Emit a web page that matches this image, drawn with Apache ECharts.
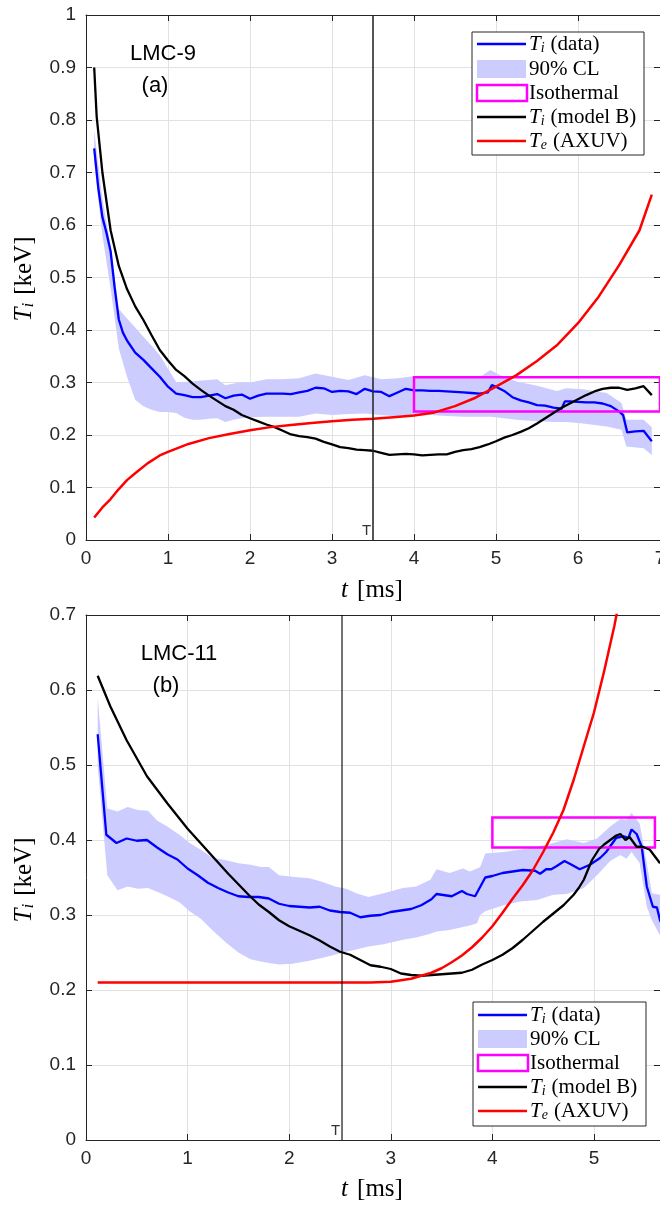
<!DOCTYPE html>
<html><head><meta charset="utf-8">
<script src="https://cdn.jsdelivr.net/npm/echarts@6/dist/echarts.min.js"></script>
<style>html,body{margin:0;padding:0;background:#fff}#c{width:660px;height:1205px}</style>
</head><body><div id="c"></div>
<script>
// ---------- LMC-9 (a) ----------
const lmc9DataT  = [0.1,0.15,0.2,0.25,0.3,0.35,0.4,0.45,0.5,0.6,0.7,0.8,0.9,1.0,1.1,1.2,1.3,1.4,1.5,1.6,1.7,1.8,1.9,2.0,2.1,2.2,2.3,2.4,2.5,2.6,2.7,2.8,2.9,3.0,3.1,3.2,3.3,3.4,3.5,3.6,3.7,3.8,3.9,4.0,4.1,4.2,4.3,4.4,4.5,4.6,4.7,4.8,4.9,4.95,5.0,5.1,5.2,5.3,5.4,5.5,5.6,5.7,5.8,5.84,5.9,6.0,6.1,6.2,6.3,6.4,6.5,6.55,6.6,6.7,6.8,6.9];
const lmc9DataTi = [0.746,0.67,0.615,0.585,0.55,0.48,0.42,0.395,0.38,0.357,0.343,0.327,0.311,0.292,0.279,0.276,0.272,0.272,0.275,0.278,0.27,0.275,0.277,0.269,0.275,0.279,0.279,0.279,0.278,0.281,0.284,0.29,0.289,0.282,0.284,0.283,0.278,0.288,0.283,0.282,0.274,0.281,0.288,0.285,0.285,0.284,0.284,0.283,0.282,0.281,0.28,0.279,0.281,0.295,0.292,0.284,0.272,0.266,0.262,0.257,0.256,0.252,0.25,0.264,0.264,0.263,0.262,0.262,0.26,0.255,0.245,0.238,0.205,0.207,0.208,0.188];
const lmc9BandT  = [0.1,0.2,0.3,0.4,0.5,0.6,0.7,0.8,0.9,1.0,1.1,1.2,1.3,1.4,1.5,1.6,1.7,1.8,1.9,2.0,2.2,2.4,2.6,2.8,3.0,3.2,3.4,3.6,3.8,4.0,4.2,4.4,4.6,4.8,4.93,5.05,5.25,5.5,5.74,5.86,6.06,6.35,6.53,6.59,6.8,6.9];
const lmc9BandLo = [0.72,0.58,0.48,0.365,0.311,0.267,0.255,0.248,0.244,0.244,0.242,0.233,0.229,0.229,0.231,0.232,0.225,0.229,0.232,0.234,0.235,0.235,0.235,0.241,0.238,0.24,0.241,0.238,0.235,0.236,0.238,0.236,0.235,0.235,0.235,0.233,0.229,0.226,0.225,0.225,0.222,0.216,0.21,0.178,0.175,0.162];
const lmc9BandHi = [0.78,0.65,0.56,0.44,0.422,0.405,0.387,0.37,0.352,0.326,0.301,0.301,0.302,0.304,0.305,0.306,0.295,0.298,0.301,0.3,0.306,0.306,0.308,0.317,0.311,0.305,0.314,0.306,0.308,0.312,0.31,0.309,0.309,0.31,0.324,0.314,0.302,0.294,0.284,0.289,0.287,0.28,0.261,0.229,0.229,0.215];
const lmc9ModelT  = [0.1,0.13,0.2,0.3,0.4,0.5,0.6,0.7,0.8,0.9,1.0,1.1,1.2,1.3,1.4,1.5,1.6,1.7,1.8,1.9,2.0,2.1,2.2,2.3,2.4,2.5,2.6,2.7,2.8,2.9,3.0,3.1,3.2,3.3,3.4,3.5,3.6,3.7,3.8,3.9,4.0,4.1,4.2,4.3,4.4,4.5,4.6,4.7,4.8,4.9,5.0,5.1,5.2,5.3,5.4,5.5,5.6,5.7,5.8,5.9,6.0,6.1,6.2,6.3,6.4,6.5,6.6,6.7,6.8,6.9];
const lmc9ModelTi = [0.9,0.807,0.7,0.59,0.522,0.478,0.445,0.419,0.39,0.362,0.342,0.324,0.312,0.298,0.286,0.275,0.265,0.255,0.248,0.238,0.232,0.226,0.22,0.215,0.208,0.201,0.198,0.196,0.193,0.187,0.182,0.177,0.175,0.172,0.171,0.17,0.166,0.162,0.163,0.164,0.163,0.161,0.162,0.163,0.163,0.168,0.171,0.173,0.177,0.182,0.188,0.195,0.2,0.206,0.213,0.222,0.232,0.242,0.252,0.26,0.268,0.276,0.283,0.288,0.29,0.29,0.286,0.289,0.293,0.276];
const lmc9TeT  = [0.1,0.2,0.3,0.4,0.5,0.6,0.75,0.9,1.0,1.25,1.5,1.75,2.0,2.25,2.5,2.75,3.0,3.25,3.5,3.75,4.0,4.25,4.5,4.75,5.0,5.25,5.5,5.75,6.0,6.25,6.5,6.75,6.9];
const lmc9Te   = [0.043,0.062,0.078,0.097,0.114,0.127,0.146,0.161,0.168,0.183,0.194,0.202,0.209,0.215,0.219,0.223,0.226,0.229,0.231,0.234,0.237,0.243,0.255,0.271,0.292,0.314,0.341,0.372,0.413,0.463,0.523,0.59,0.658];
const lmc9Iso = [4, 0.245, 7, 0.31];   // t0, Ti0, t1, Ti1
const lmc9Mark = 3.5;

// ---------- LMC-11 (b) ----------
const lmc11DataT  = [0.115,0.2,0.3,0.4,0.5,0.6,0.7,0.8,0.9,1.0,1.1,1.2,1.3,1.4,1.5,1.6,1.7,1.8,1.9,2.0,2.1,2.2,2.3,2.4,2.5,2.6,2.7,2.8,2.9,3.0,3.1,3.2,3.3,3.4,3.45,3.5,3.6,3.7,3.75,3.83,3.93,4.0,4.1,4.2,4.3,4.42,4.47,4.53,4.58,4.63,4.71,4.78,4.86,4.96,5.06,5.12,5.22,5.29,5.34,5.37,5.42,5.47,5.52,5.58,5.62,5.65,5.7];
const lmc11DataTi = [0.541,0.407,0.396,0.402,0.399,0.4,0.39,0.381,0.374,0.362,0.353,0.343,0.336,0.33,0.325,0.324,0.324,0.322,0.315,0.312,0.311,0.31,0.311,0.306,0.304,0.303,0.297,0.299,0.3,0.304,0.306,0.308,0.313,0.321,0.328,0.327,0.325,0.332,0.328,0.325,0.35,0.352,0.356,0.358,0.36,0.359,0.355,0.361,0.361,0.365,0.372,0.367,0.361,0.367,0.376,0.384,0.403,0.405,0.403,0.414,0.408,0.391,0.338,0.311,0.31,0.293,0.28];
const lmc11BandT  = [0.115,0.21,0.31,0.41,0.51,0.61,0.7,0.8,0.92,1.02,1.13,1.25,1.38,1.5,1.62,1.72,1.8,1.9,2.03,2.2,2.33,2.45,2.56,2.66,2.78,2.93,3.12,3.25,3.39,3.45,3.58,3.71,3.78,3.85,3.88,3.93,4.11,4.27,4.44,4.6,4.73,4.9,5.03,5.16,5.26,5.32,5.37,5.45,5.52,5.57,5.65];
const lmc11BandLo = [0.5,0.353,0.333,0.338,0.335,0.336,0.331,0.325,0.317,0.305,0.295,0.279,0.263,0.25,0.241,0.238,0.236,0.234,0.235,0.239,0.243,0.247,0.251,0.254,0.258,0.261,0.267,0.27,0.275,0.278,0.28,0.284,0.286,0.289,0.3,0.305,0.313,0.318,0.32,0.327,0.328,0.336,0.353,0.372,0.38,0.375,0.384,0.369,0.311,0.293,0.273];
const lmc11BandHi = [0.59,0.442,0.438,0.444,0.44,0.439,0.426,0.418,0.407,0.396,0.387,0.376,0.373,0.369,0.367,0.364,0.364,0.353,0.351,0.349,0.344,0.338,0.335,0.329,0.324,0.329,0.336,0.338,0.347,0.361,0.356,0.362,0.358,0.362,0.364,0.382,0.384,0.387,0.391,0.396,0.401,0.396,0.402,0.418,0.428,0.427,0.436,0.422,0.369,0.329,0.327];
const lmc11ModelT  = [0.115,0.24,0.4,0.6,0.8,1.0,1.1,1.2,1.3,1.4,1.5,1.6,1.7,1.8,1.9,2.0,2.1,2.2,2.3,2.4,2.5,2.55,2.6,2.7,2.8,2.9,3.0,3.1,3.2,3.3,3.4,3.5,3.6,3.7,3.8,3.9,4.0,4.1,4.2,4.3,4.4,4.5,4.6,4.7,4.8,4.85,4.9,4.98,5.05,5.1,5.16,5.22,5.26,5.31,5.35,5.42,5.48,5.55,5.65];
const lmc11ModelTi = [0.619,0.578,0.533,0.485,0.449,0.415,0.4,0.385,0.37,0.355,0.341,0.327,0.314,0.304,0.293,0.285,0.279,0.273,0.266,0.258,0.251,0.249,0.247,0.24,0.233,0.231,0.228,0.222,0.22,0.219,0.22,0.221,0.222,0.223,0.227,0.234,0.24,0.247,0.256,0.267,0.279,0.291,0.302,0.313,0.327,0.336,0.347,0.373,0.388,0.394,0.4,0.406,0.408,0.4,0.404,0.391,0.391,0.387,0.369];
const lmc11TeT = [0.115,0.5,1.0,1.5,2.0,2.5,2.8,3.0,3.2,3.3,3.4,3.5,3.6,3.7,3.8,3.9,4.0,4.1,4.2,4.3,4.4,4.5,4.6,4.7,4.8,4.9,5.0,5.1,5.2,5.25];
const lmc11Te  = [0.21,0.21,0.21,0.21,0.21,0.21,0.21,0.211,0.215,0.219,0.223,0.229,0.237,0.246,0.257,0.27,0.285,0.303,0.322,0.34,0.36,0.384,0.41,0.44,0.48,0.525,0.57,0.625,0.685,0.72];
const lmc11Iso = [4, 0.39, 5.6, 0.43];
const lmc11Mark = 2.52;

// ---------- axis tick settings ----------
const xTicks9 = {min: 0, max: 7, interval: 1};
const yTicks9 = {min: 0, max: 1, interval: 0.1};
const xTicks11 = {min: 0, max: 5.65, interval: 1};
const yTicks11 = {min: 0, max: 0.7, interval: 0.1};

const legendItems = ['data', 'CL', 'Isothermal', 'model', 'Te'];

// ---------- helpers ----------
const zip = (a, b) => a.map((v, i) => [v, b[i]]);
const SANS = '"Liberation Sans", Arial, sans-serif';
const SERIF = '"Liberation Serif", "Times New Roman", serif';
const INK = '#262626';
const BLUE = '#0000ff', BAND = '#ccccff', MAG = '#ff00ff', BLACK = '#000000', RED = '#ff0000';

function axesFor(g, xt, yt) {
  const common = {
    gridIndex: g, type: 'value',
    axisLine: {show: true, onZero: false, lineStyle: {color: INK, width: 1}},
    axisTick: {show: true, inside: true, length: 6, lineStyle: {color: INK}},
  };
  const x = [
    Object.assign({}, common, xt, {position: 'bottom',
      axisLabel: {fontSize: 19, color: INK, fontFamily: SANS, margin: 9, showMaxLabel: xt.max % 1 === 0},
      splitLine: {show: true, lineStyle: {color: '#e2e2e2', width: 1}}}),
    Object.assign({}, common, xt, {position: 'top', axisLabel: {show: false}, splitLine: {show: false}})
  ];
  const y = [
    Object.assign({}, common, yt, {position: 'left',
      axisLabel: {fontSize: 19, color: INK, fontFamily: SANS, margin: 10},
      splitLine: {show: true, lineStyle: {color: '#e2e2e2', width: 1}}}),
    Object.assign({}, common, yt, {position: 'right', axisLabel: {show: false}, splitLine: {show: false}})
  ];
  return {x, y};
}

function panelSeries(axIdx, d) {
  const xi = axIdx * 2, yi = axIdx * 2;
  const base = {xAxisIndex: xi, yAxisIndex: yi, showSymbol: false, symbol: 'none', animation: false, clip: true};
  return [
    {type: 'custom', name: 'CL' + axIdx, xAxisIndex: xi, yAxisIndex: yi, z: 1, animation: false,
      data: d.bandT.map((t, i) => [t, d.bandLo[i], d.bandHi[i]]),
      renderItem: (params, api) => {
        if (params.dataIndex !== 0) return null;
        const pts = [];
        d.bandT.forEach((t, i) => pts.push(api.coord([t, d.bandHi[i]])));
        for (let i = d.bandT.length - 1; i >= 0; i--) pts.push(api.coord([d.bandT[i], d.bandLo[i]]));
        return {type: 'polygon', shape: {points: pts}, style: {fill: BAND, stroke: null}};
      }},
    Object.assign({}, base, {type: 'line', name: 'data' + axIdx,
      data: zip(d.dataT, d.dataTi), lineStyle: {color: BLUE, width: 2.3}, z: 3}),
    {type: 'custom', xAxisIndex: xi, yAxisIndex: yi, z: 4, animation: false,
      data: [d.iso],
      renderItem: (params, api) => {
        const p0 = api.coord([api.value(0), api.value(3)]);
        const p1 = api.coord([api.value(2), api.value(1)]);
        return {type: 'rect', shape: {x: p0[0], y: p0[1], width: p1[0] - p0[0], height: p1[1] - p0[1]},
          style: {fill: 'none', stroke: MAG, lineWidth: 2.5}};
      }},
    Object.assign({}, base, {type: 'line', name: 'model' + axIdx,
      data: zip(d.modelT, d.modelTi), lineStyle: {color: BLACK, width: 2.3}, z: 5}),
    Object.assign({}, base, {type: 'line', name: 'Te' + axIdx,
      data: zip(d.teT, d.te), lineStyle: {color: RED, width: 2.5, join: 'round'}, z: 6}),
    Object.assign({}, base, {type: 'line', name: 'mark' + axIdx,
      data: [[d.mark, d.yMin], [d.mark, d.yMax]], lineStyle: {color: d.markColor, width: d.markWidth}, z: 7}),
    {type: 'scatter', xAxisIndex: xi, yAxisIndex: yi, symbolSize: 0, z: 8, animation: false,
      data: [[d.mark, d.yMin]],
      label: {show: true, formatter: 'T', position: [-11, -17], fontSize: 15, color: '#000', fontFamily: SANS}}
  ];
}

const a9 = axesFor(0, xTicks9, yTicks9);
const a11 = axesFor(1, xTicks11, yTicks11);

const series = [].concat(
  panelSeries(0, {bandT: lmc9BandT, bandLo: lmc9BandLo, bandHi: lmc9BandHi, dataT: lmc9DataT, dataTi: lmc9DataTi,
    modelT: lmc9ModelT, modelTi: lmc9ModelTi, teT: lmc9TeT, te: lmc9Te, iso: lmc9Iso, mark: lmc9Mark,
    yMin: yTicks9.min, yMax: yTicks9.max, markColor: '#2b2b2b', markWidth: 1.6}),
  panelSeries(1, {bandT: lmc11BandT, bandLo: lmc11BandLo, bandHi: lmc11BandHi, dataT: lmc11DataT, dataTi: lmc11DataTi,
    modelT: lmc11ModelT, modelTi: lmc11ModelTi, teT: lmc11TeT, te: lmc11Te, iso: lmc11Iso, mark: lmc11Mark,
    yMin: yTicks11.min, yMax: yTicks11.max, markColor: '#000', markWidth: 1.1})
);

// ---------- text (titles, axis names, legends) ----------
const subRich = (fs) => ({
  it: {fontFamily: SERIF, fontStyle: 'italic', fontSize: fs, lineHeight: fs + 2, fill: '#000'},
  itg: {fontFamily: SERIF, fontStyle: 'italic', fontSize: fs, lineHeight: fs + 2, fill: '#000', padding: [0, Math.round(fs * 0.35), 0, 0]},
  sub: {fontFamily: SERIF, fontStyle: 'italic', fontSize: Math.round(fs * 0.66), lineHeight: 8, verticalAlign: 'bottom', fill: '#000', padding: [0, Math.round(fs * 0.3), 0, 0]},
  n: {fontFamily: SERIF, fontSize: fs, lineHeight: fs + 2, fill: '#000'}
});

function legendGraphic(bx, by, bw, bh, rowYs) {
  const els = [{type: 'rect', shape: {x: bx, y: by, width: bw, height: bh},
    style: {fill: '#fff', stroke: INK, lineWidth: 1}, z: 100}];
  const ix0 = bx + 5, ix1 = bx + 54, tx = bx + 57;
  const texts = ['{it|T}{sub|i}{n|(data)}', '{n|90% CL}', '{n|Isothermal}', '{it|T}{sub|i}{n|(model B)}', '{it|T}{sub|e}{n|(AXUV)}'];
  legendItems.forEach((k, i) => {
    const y = rowYs[i];
    if (k === 'CL') {
      els.push({type: 'rect', shape: {x: ix0, y: y - 9, width: ix1 - ix0, height: 18}, style: {fill: BAND}, z: 101});
    } else if (k === 'Isothermal') {
      els.push({type: 'rect', shape: {x: ix0, y: y - 8, width: ix1 - ix0 + 1, height: 16}, style: {fill: 'none', stroke: MAG, lineWidth: 2.5}, z: 101});
    } else {
      const col = k === 'data' ? BLUE : k === 'model' ? BLACK : RED;
      els.push({type: 'line', shape: {x1: ix0, y1: y, x2: ix1, y2: y}, style: {stroke: col, lineWidth: 2.5}, z: 101});
    }
    els.push({type: 'text', x: tx, y: y, z: 102,
      style: {text: texts[i], rich: subRich(21), verticalAlign: 'middle', align: 'left', fill: '#000'}});
  });
  return els;
}

const labelText = (x, y, txt) => ({type: 'text', x, y, z: 50,
  style: {text: txt, font: '22px ' + SANS, fill: '#000', align: 'center', verticalAlign: 'middle'}});

const graphic = [].concat(
  [labelText(163, 54, 'LMC-9'), labelText(155, 86, '(a)'), labelText(179, 654, 'LMC-11'), labelText(166, 686, '(b)')],
  [
    {type: 'text', x: 372, y: 590, z: 50, style: {text: '{itg|t}{n|[ms]}', rich: subRich(25), align: 'center', verticalAlign: 'middle'}},
    {type: 'text', x: 372, y: 1189, z: 50, style: {text: '{itg|t}{n|[ms]}', rich: subRich(25), align: 'center', verticalAlign: 'middle'}},
    {type: 'text', x: 24, y: 279, rotation: Math.PI / 2, z: 50, style: {text: '{it|T}{sub|i}{n|[keV]}', rich: subRich(25), align: 'center', verticalAlign: 'middle'}},
    {type: 'text', x: 24, y: 880, rotation: Math.PI / 2, z: 50, style: {text: '{it|T}{sub|i}{n|[keV]}', rich: subRich(25), align: 'center', verticalAlign: 'middle'}}
  ],
  legendGraphic(472, 32, 172, 123, [44, 69, 93, 117, 141]),
  legendGraphic(473, 1002, 173, 124, [1015, 1039, 1063, 1087, 1111])
);

const chart = echarts.init(document.getElementById('c'), null, {renderer: 'canvas'});
chart.setOption({
  animation: false,
  backgroundColor: '#fff',
  grid: [
    {left: 86, top: 15, width: 574, height: 525, containLabel: false, outerBoundsMode: 'none'},
    {left: 86, top: 615, width: 574, height: 525, containLabel: false, outerBoundsMode: 'none'}
  ],
  xAxis: [].concat(a9.x, a11.x),
  yAxis: [].concat(a9.y, a11.y),
  series,
  graphic
});
</script></body></html>
